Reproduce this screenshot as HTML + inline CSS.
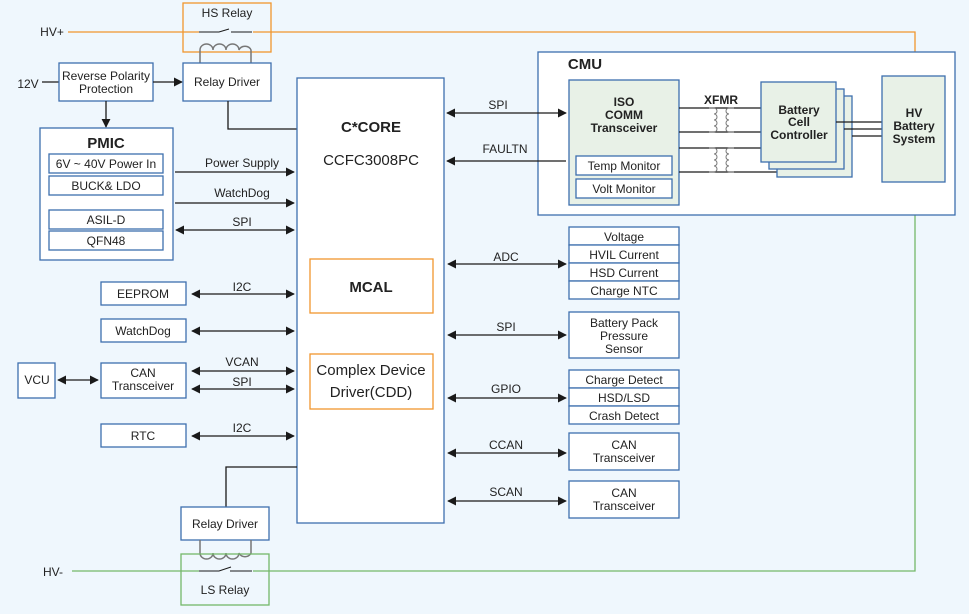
<!DOCTYPE html>
<html><head><meta charset="utf-8"><style>
html,body{margin:0;padding:0;background:#eff7fd}
svg{display:block}
text{font-family:"Liberation Sans",sans-serif;font-size:12px;fill:#222;text-anchor:middle}
.b{fill:#fff;stroke:#3d6fae;stroke-width:1.3}
.g{fill:#e8f1e7;stroke:#3d6fae;stroke-width:1.3}
.l{stroke:#1a1a1a;stroke-width:1.3;fill:none}
.c{stroke:#777;stroke-width:1.5;fill:none}
</style></head><body>
<svg width="969" height="614" viewBox="0 0 969 614" xmlns="http://www.w3.org/2000/svg">
<defs>
<marker id="a" viewBox="0 0 10 10" refX="9" refY="5" markerWidth="9" markerHeight="9" markerUnits="userSpaceOnUse" orient="auto-start-reverse"><path d="M0,0L10,5L0,10z" fill="#1a1a1a"/></marker>
</defs>
<rect width="969" height="614" fill="#eff7fd"/>
<!-- HV+ line -->
<text x="52" y="36" style="text-anchor:middle">HV+</text>
<path d="M68,32H915V76" stroke="#f0962e" stroke-width="1.3" fill="none"/>
<rect x="183" y="3" width="88" height="49" fill="none" stroke="#f0962e" stroke-width="1.3"/>
<text x="227" y="17">HS Relay</text>
<rect x="199" y="30" width="54" height="5" fill="#eff7fd"/>
<path class="l" d="M199,32H219L229,29M231,32H252" style="stroke-width:1"/>
<path class="c" d="M200,63V50a6.5,6 0 0 1 13,0a6.5,6 0 0 1 13,0a6.5,6 0 0 1 13,0a6.5,6 0 0 1 12,0V63"/>
<!-- 12V / RP -->
<text x="28" y="88">12V</text>
<path class="l" d="M42,82H59"/>
<rect class="b" x="59" y="63" width="94" height="38"/>
<text x="106" y="80">Reverse Polarity</text>
<text x="106" y="93">Protection</text>
<path class="l" d="M153,82H182" marker-end="url(#a)"/>
<rect class="b" x="183" y="63" width="88" height="38"/>
<text x="227" y="86">Relay Driver</text>
<path class="l" d="M228,101V129H297"/>
<path class="l" d="M106,101V127" marker-end="url(#a)"/>
<!-- PMIC -->
<rect class="b" x="40" y="128" width="133" height="132"/>
<text x="106" y="148" style="font-size:15px;font-weight:bold">PMIC</text>
<rect class="b" x="49" y="154" width="114" height="19"/><text x="106" y="168">6V ~ 40V Power In</text>
<rect class="b" x="49" y="176" width="114" height="19"/><text x="106" y="190">BUCK&amp; LDO</text>
<rect class="b" x="49" y="210" width="114" height="19"/><text x="106" y="224">ASIL-D</text>
<rect class="b" x="49" y="231" width="114" height="19"/><text x="106" y="245">QFN48</text>
<path class="l" d="M175,172H294" marker-end="url(#a)"/><text x="242" y="167">Power Supply</text>
<path class="l" d="M175,203H294" marker-end="url(#a)"/><text x="242" y="197">WatchDog</text>
<path class="l" d="M176,230H294" marker-start="url(#a)" marker-end="url(#a)"/><text x="242" y="226">SPI</text>
<!-- main -->
<rect class="b" x="297" y="78" width="147" height="445"/>
<text x="371" y="132" style="font-size:15px;font-weight:bold">C*CORE</text>
<text x="371" y="165" style="font-size:15px">CCFC3008PC</text>
<rect x="310" y="259" width="123" height="54" fill="#fff" stroke="#f0962e" stroke-width="1.3"/>
<text x="371" y="292" style="font-size:15px;font-weight:bold">MCAL</text>
<rect x="310" y="354" width="123" height="55" fill="#fff" stroke="#f0962e" stroke-width="1.3"/>
<text x="371" y="375" style="font-size:15px">Complex Device</text>
<text x="371" y="397" style="font-size:15px">Driver(CDD)</text>
<!-- left peripherals -->
<rect class="b" x="101" y="282" width="85" height="23"/><text x="143" y="298">EEPROM</text>
<path class="l" d="M192,294H294" marker-start="url(#a)" marker-end="url(#a)"/><text x="242" y="291">I2C</text>
<rect class="b" x="101" y="319" width="85" height="23"/><text x="143" y="335">WatchDog</text>
<path class="l" d="M192,331H294" marker-start="url(#a)" marker-end="url(#a)"/>
<rect class="b" x="18" y="363" width="37" height="35"/><text x="37" y="384">VCU</text>
<path class="l" d="M58,380H98" marker-start="url(#a)" marker-end="url(#a)"/>
<rect class="b" x="101" y="363" width="85" height="35"/><text x="143" y="377">CAN</text><text x="143" y="390">Transceiver</text>
<path class="l" d="M192,371H294" marker-start="url(#a)" marker-end="url(#a)"/><text x="242" y="366">VCAN</text>
<path class="l" d="M192,389H294" marker-start="url(#a)" marker-end="url(#a)"/><text x="242" y="386">SPI</text>
<rect class="b" x="101" y="424" width="85" height="23"/><text x="143" y="440">RTC</text>
<path class="l" d="M192,436H294" marker-start="url(#a)" marker-end="url(#a)"/><text x="242" y="432">I2C</text>
<!-- low side -->
<path class="l" d="M297,467H226V507"/>
<rect class="b" x="181" y="507" width="88" height="33"/><text x="225" y="528">Relay Driver</text>
<path class="c" d="M200,540V553a6.5,6 0 0 0 13,0a6.5,6 0 0 0 13,0a6.5,6 0 0 0 13,0a6.5,6 0 0 0 12,0V540"/>
<rect x="181" y="554" width="88" height="51" fill="none" stroke="#74b86a" stroke-width="1.3"/>
<text x="53" y="576">HV-</text>
<path d="M72,571H915V183" stroke="#74b86a" stroke-width="1.3" fill="none"/>
<rect x="199" y="569" width="54" height="5" fill="#eff7fd"/>
<path class="l" d="M199,571H219L231,567M230,571H252" style="stroke-width:1"/>
<text x="225" y="594">LS Relay</text>
<!-- CMU -->
<rect x="538" y="52" width="417" height="163" fill="#fff" stroke="#3d6fae" stroke-width="1.3"/>
<text x="585" y="69" style="font-size:15px;font-weight:bold">CMU</text>
<rect class="g" x="569" y="80" width="110" height="125"/>
<text x="624" y="106" style="font-weight:bold">ISO</text>
<text x="624" y="119" style="font-weight:bold">COMM</text>
<text x="624" y="132" style="font-weight:bold">Transceiver</text>
<rect class="b" x="576" y="156" width="96" height="19"/><text x="624" y="170">Temp Monitor</text>
<rect class="b" x="576" y="179" width="96" height="19"/><text x="624" y="193">Volt Monitor</text>
<path class="l" d="M447,113H566" marker-start="url(#a)" marker-end="url(#a)"/><text x="498" y="109">SPI</text>
<path class="l" d="M566,161H447" marker-end="url(#a)"/><text x="505" y="153">FAULTN</text>
<text x="721" y="104" style="font-weight:bold">XFMR</text>
<path class="l" d="M679,108H761M679,132H761M679,148H761M679,172H777"/>
<path class="c" style="stroke-width:1" d="M709,108h5a3,3 0 0 1 0,6a3,3 0 0 1 0,6a3,3 0 0 1 0,6a3,3 0 0 1 0,6h-5M734,108h-5a3,3 0 0 0 0,6a3,3 0 0 0 0,6a3,3 0 0 0 0,6a3,3 0 0 0 0,6h5"/>
<path class="c" style="stroke-width:1" d="M709,148h5a3,3 0 0 1 0,6a3,3 0 0 1 0,6a3,3 0 0 1 0,6a3,3 0 0 1 0,6h-5M734,148h-5a3,3 0 0 0 0,6a3,3 0 0 0 0,6a3,3 0 0 0 0,6a3,3 0 0 0 0,6h5"/>
<rect class="g" x="777" y="96" width="75" height="81"/>
<rect class="g" x="769" y="89" width="75" height="80"/>
<rect class="g" x="761" y="82" width="75" height="80"/>
<text x="799" y="114" style="font-weight:bold">Battery</text>
<text x="799" y="126" style="font-weight:bold">Cell</text>
<text x="799" y="139" style="font-weight:bold">Controller</text>
<path class="l" d="M836,122H882M844,129H882M852,136H882"/>
<rect class="g" x="882" y="76" width="63" height="106"/>
<text x="914" y="117" style="font-weight:bold">HV</text>
<text x="914" y="130" style="font-weight:bold">Battery</text>
<text x="914" y="143" style="font-weight:bold">System</text>
<!-- right column -->
<rect class="b" x="569" y="227" width="110" height="18"/><text x="624" y="241">Voltage</text>
<rect class="b" x="569" y="245" width="110" height="18"/><text x="624" y="259">HVIL Current</text>
<rect class="b" x="569" y="263" width="110" height="18"/><text x="624" y="277">HSD Current</text>
<rect class="b" x="569" y="281" width="110" height="18"/><text x="624" y="295">Charge NTC</text>
<path class="l" d="M448,264H566" marker-start="url(#a)" marker-end="url(#a)"/><text x="506" y="261">ADC</text>
<rect class="b" x="569" y="312" width="110" height="46"/>
<text x="624" y="327">Battery Pack</text><text x="624" y="340">Pressure</text><text x="624" y="353">Sensor</text>
<path class="l" d="M448,335H566" marker-start="url(#a)" marker-end="url(#a)"/><text x="506" y="331">SPI</text>
<rect class="b" x="569" y="370" width="110" height="18"/><text x="624" y="384">Charge Detect</text>
<rect class="b" x="569" y="388" width="110" height="18"/><text x="624" y="402">HSD/LSD</text>
<rect class="b" x="569" y="406" width="110" height="18"/><text x="624" y="420">Crash Detect</text>
<path class="l" d="M448,398H566" marker-start="url(#a)" marker-end="url(#a)"/><text x="506" y="393">GPIO</text>
<rect class="b" x="569" y="433" width="110" height="37"/><text x="624" y="449">CAN</text><text x="624" y="462">Transceiver</text>
<path class="l" d="M448,453H566" marker-start="url(#a)" marker-end="url(#a)"/><text x="506" y="449">CCAN</text>
<rect class="b" x="569" y="481" width="110" height="37"/><text x="624" y="497">CAN</text><text x="624" y="510">Transceiver</text>
<path class="l" d="M448,501H566" marker-start="url(#a)" marker-end="url(#a)"/><text x="506" y="496">SCAN</text>
</svg>
</body></html>
